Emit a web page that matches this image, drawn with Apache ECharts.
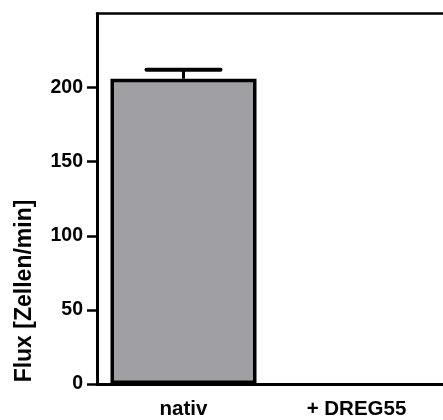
<!DOCTYPE html>
<html>
<head>
<meta charset="utf-8">
<script src="https://cdn.jsdelivr.net/npm/echarts@6/dist/echarts.min.js"></script>
<style>html,body{margin:0;padding:0;background:#fff}#c{width:443px;height:420px}</style>
</head>
<body>
<div id="c"></div>
<script>
var categories = ['nativ', '+ DREG55'];
var values = [206, 0];
var errors = [6, 0];
var yTicks = [0, 50, 100, 150, 200];
var yTitle = 'Flux [Zellen/min]';

var FONT = '"Liberation Sans", Arial, sans-serif';
var chart = echarts.init(document.getElementById('c'), null, {renderer: 'canvas'});
chart.setOption({
  animation: false,
  grid: {left: 97, top: 13.5, bottom: 34, right: -6, containLabel: false},
  xAxis: [{
    type: 'category', data: categories, position: 'bottom',
    axisLine: {lineStyle: {color: '#000', width: 3}},
    axisTick: {show: false},
    axisLabel: {color: '#000', fontFamily: FONT, fontWeight: 'bold', fontSize: 20.5, margin: 15}
  }, {
    type: 'category', data: categories, position: 'top',
    axisLine: {lineStyle: {color: '#000', width: 2.5}},
    axisTick: {show: false}, axisLabel: {show: false}
  }],
  yAxis: {
    type: 'value', min: 0, max: 250, interval: 50,
    splitLine: {show: false},
    axisLine: {show: true, lineStyle: {color: '#000', width: 3}},
    axisTick: {show: true, length: 10, customValues: yTicks, lineStyle: {color: '#000', width: 2.5}},
    axisLabel: {customValues: yTicks, color: '#000', fontFamily: FONT, fontWeight: 'bold', fontSize: 19.5, margin: 14}
  },
  graphic: [{
    type: 'text', x: 25, y: 291, rotation: Math.PI / 2,
    style: {text: yTitle, fill: '#000', font: 'bold 23px ' + FONT, align: 'center', verticalAlign: 'middle'}
  }],
  series: [{
    type: 'bar', barWidth: 146, z: 2,
    data: values.map(function (v) { return {value: v, itemStyle: {borderWidth: v ? 3.5 : 0}}; }),
    itemStyle: {color: '#a09fa4', borderColor: '#000', borderWidth: 3.5}
  }, {
    type: 'custom', z: 3,
    data: values.map(function (v, i) { return [i, v, errors[i]]; }),
    renderItem: function (params, api) {
      var i = api.value(0), v = api.value(1), e = api.value(2);
      if (!e) return null;
      var p0 = api.coord([i, v]);
      var p1 = api.coord([i, v + e]);
      var hw = 37;
      return {
        type: 'group',
        children: [
          {type: 'line', shape: {x1: p0[0], y1: p0[1], x2: p1[0], y2: p1[1]}, style: {stroke: '#000', lineWidth: 3}},
          {type: 'line', shape: {x1: p1[0] - hw, y1: p1[1], x2: p1[0] + hw, y2: p1[1]}, style: {stroke: '#000', lineWidth: 4, lineCap: 'round'}}
        ]
      };
    }
  }]
});
</script>
</body>
</html>
